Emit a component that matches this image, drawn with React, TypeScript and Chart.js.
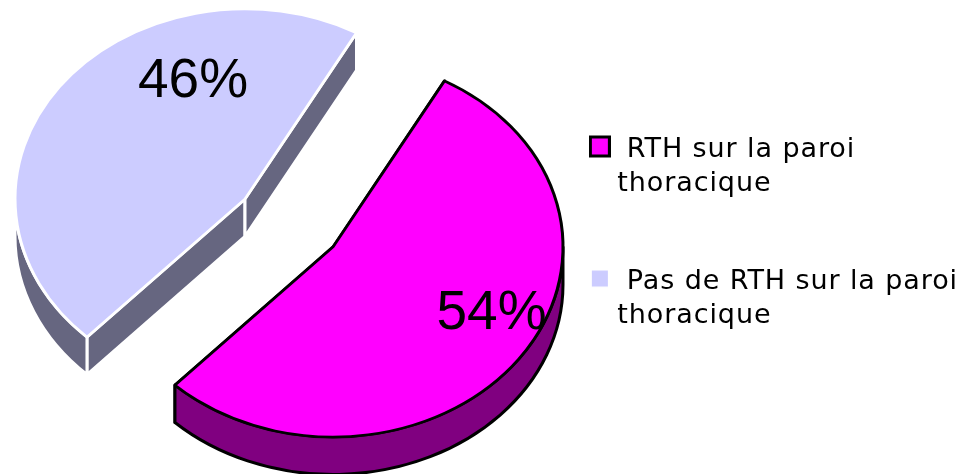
import React, { useEffect, useRef } from "react";
import { Chart, registerables } from "chart.js";

Chart.register(...registerables);

const categories: string[][] = [
  [" RTH sur la paroi", "thoracique"],
  [" Pas de RTH sur la paroi", "thoracique"],
];
const seriesValues = [54, 46];
const valueLabels = ["54%", "46%"];
const topColors = ["#FF00FF", "#CCCCFF"];
const sideColors = ["#800080", "#666680"];
const edgeColors = ["#000000", "#FFFFFF"];

const RADIUS = 230;
const SQUASH = 190 / 230;
const DEPTH = 37.5;
const EXPLODE_DX = 44;
const EXPLODE_DY = 24;
const CENTER_X = 289;
const CENTER_Y = 223;
const LABEL_SHIFT = [
  { dx: 158.5, dy: 67 },
  { dx: -52, dy: -117 },
];

// Legend swatch: the box sits a little above the text's mid-line, as in the reference.
function makeSwatch(fill: string, edge: string) {
  const c = document.createElement("canvas");
  c.width = 22;
  c.height = 30;
  const g = c.getContext("2d")!;
  g.fillStyle = fill;
  g.strokeStyle = edge;
  g.lineWidth = 3;
  g.beginPath();
  g.rect(1.5, 2, 19, 19);
  g.fill();
  g.stroke();
  return c;
}

const pie3d = {
  id: "pie3d",
  beforeLayout(chart: any) {
    chart.ctx.letterSpacing = "0.9px";
  },
  afterDatasetsUpdate(chart: any) {
    chart.getDatasetMeta(0).data.forEach((arc: any) => {
      const mid = (arc.startAngle + arc.endAngle) / 2;
      const side = Math.cos(mid) >= 0 ? 1 : -1;
      arc.x = CENTER_X + side * EXPLODE_DX;
      arc.y = CENTER_Y + (side * EXPLODE_DY) / SQUASH;
    });
  },
  beforeDatasetsDraw(chart: any) {
    const ctx = chart.ctx as CanvasRenderingContext2D;
    chart.getDatasetMeta(0).data.forEach((arc: any, i: number) => {
      const cx = arc.x;
      const cy = CENTER_Y + (arc.y - CENTER_Y) * SQUASH;
      const r = arc.outerRadius;
      const ry = r * SQUASH;
      const a0 = arc.startAngle;
      const a1 = arc.endAngle;
      const rim = (a: number) => ({ x: cx + Math.cos(a) * r, y: cy + Math.sin(a) * ry });
      ctx.save();
      ctx.fillStyle = sideColors[i];
      ctx.strokeStyle = edgeColors[i];
      ctx.lineWidth = 3;
      ctx.lineJoin = "round";
      for (const a of [a0, a1]) {
        const p = rim(a);
        ctx.beginPath();
        ctx.moveTo(cx, cy);
        ctx.lineTo(p.x, p.y);
        ctx.lineTo(p.x, p.y + DEPTH);
        ctx.lineTo(cx, cy + DEPTH);
        ctx.closePath();
        ctx.fill();
        ctx.stroke();
      }
      const norm = (a: number) => {
        let v = a;
        while (v < -Math.PI / 2 - 1e-6) v += Math.PI * 2;
        return v;
      };
      const s0 = norm(a0);
      const from = Math.max(s0, 0);
      const to = Math.min(s0 + (a1 - a0), Math.PI);
      if (to > from) {
        ctx.beginPath();
        ctx.ellipse(cx, cy, r, ry, 0, from, to);
        ctx.ellipse(cx, cy + DEPTH, r, ry, 0, to, from, true);
        ctx.closePath();
        ctx.fill();
        ctx.stroke();
      }
      ctx.restore();
    });
    ctx.save();
    ctx.translate(0, CENTER_Y);
    ctx.scale(1, SQUASH);
    ctx.translate(0, -CENTER_Y);
  },
  afterDatasetsDraw(chart: any) {
    const ctx = chart.ctx as CanvasRenderingContext2D;
    ctx.restore();
    ctx.save();
    (ctx as any).letterSpacing = "0px";
    ctx.font = '55px "Liberation Sans", Arial, sans-serif';
    ctx.fillStyle = "#000000";
    ctx.textAlign = "center";
    ctx.textBaseline = "middle";
    chart.getDatasetMeta(0).data.forEach((arc: any, i: number) => {
      const y = CENTER_Y + (arc.y - CENTER_Y) * SQUASH;
      ctx.fillText(valueLabels[i], arc.x + LABEL_SHIFT[i].dx, y + LABEL_SHIFT[i].dy);
    });
    ctx.restore();
  },
};

export default function App() {
  const ref = useRef<HTMLCanvasElement>(null);
  useEffect(() => {
    const swatches = topColors.map((c, i) => makeSwatch(c, edgeColors[i]));
    const chart = new Chart(ref.current!, {
      type: "pie",
      data: {
        labels: categories as any,
        datasets: [
          {
            data: seriesValues,
            backgroundColor: topColors,
            borderColor: edgeColors,
            borderWidth: 3,
            clip: false,
          } as any,
        ],
      },
      options: {
        responsive: false,
        animation: false,
        events: [],
        rotation: 29,
        radius: RADIUS,
        layout: { padding: { top: 72.5, right: 0 } },
        plugins: {
          tooltip: { enabled: false },
          legend: {
            position: "right",
            align: "start",
            labels: {
              usePointStyle: true,
              boxWidth: 8,
              boxHeight: 19,
              padding: 64,
              color: "#000000",
              font: { family: '"DejaVu Sans", sans-serif', size: 27, lineHeight: 1.26 },
              generateLabels: () =>
                categories.map((text, i) => ({
                  text: text as any,
                  fillStyle: topColors[i],
                  strokeStyle: edgeColors[i],
                  lineWidth: 3,
                  pointStyle: swatches[i] as any,
                  hidden: false,
                  index: i,
                })),
            },
          },
        },
      } as any,
      plugins: [pie3d],
    });
    return () => chart.destroy();
  }, []);
  return (
    <div style={{ position: "fixed", left: 0, top: 0, width: 968, height: 474 }}>
      <canvas ref={ref} width={968} height={474} style={{ display: "block" }} />
    </div>
  );
}
